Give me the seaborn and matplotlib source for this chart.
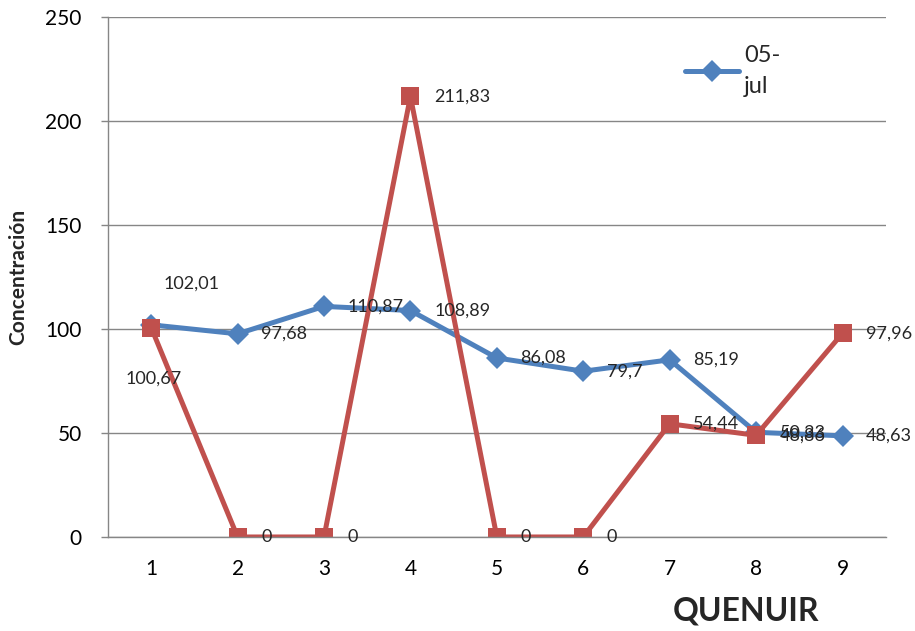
import pandas as pd
import seaborn as sns
import matplotlib.pyplot as plt

sns.set_theme(style='white')
plt.rcParams['font.family'] = ['Lato', 'DejaVu Sans']

quenuir = [1, 2, 3, 4, 5, 6, 7, 8, 9]
jul_05 = [102.01, 97.68, 110.87, 108.89, 86.08, 79.7, 85.19, 50.33, 48.63]
serie_2 = [100.67, 0, 0, 211.83, 0, 0, 54.44, 48.86, 97.96]

df = pd.concat([
    pd.DataFrame({'quenuir': quenuir, 'valor': jul_05, 'serie': '05-jul'}),
    pd.DataFrame({'quenuir': quenuir, 'valor': serie_2, 'serie': 'serie2'}),
])

fig = plt.figure(figsize=(9.15, 6.31), dpi=100)
ax = fig.add_axes([0.118, 0.149, 0.850, 0.824])

palette = {'05-jul': '#4F81BD', 'serie2': '#C0504D'}
sns.lineplot(data=df, x='quenuir', y='valor', hue='serie', style='serie',
             markers={'05-jul': 'D', 'serie2': 's'}, dashes=False,
             palette=palette, linewidth=3.6, markersize=11,
             markeredgewidth=0, ax=ax, legend=False)
# squares are a bit bigger than the diamonds
for ln in ax.get_lines():
    if ln.get_marker() == 's':
        ln.set_markersize(13)

# data labels, written the excel way with a comma
def fmt(v):
    return ('%g' % v).replace('.', ',')

for i, (x, v) in enumerate(zip(quenuir, jul_05)):
    if i == 0:
        ax.annotate(fmt(v), (x, v), xytext=(9, 30), textcoords='offset points',
                    fontsize=13, va='center', ha='left')
    else:
        ax.annotate(fmt(v), (x, v), xytext=(17, 0), textcoords='offset points',
                    fontsize=13, va='center', ha='left')
for i, (x, v) in enumerate(zip(quenuir, serie_2)):
    if i == 0:
        ax.annotate(fmt(v), (x, v), xytext=(2, -37), textcoords='offset points',
                    fontsize=13, va='center', ha='center')
    else:
        ax.annotate(fmt(v), (x, v), xytext=(17, 0), textcoords='offset points',
                    fontsize=13, va='center', ha='left')

ax.set_xlim(0.5, 9.5)
ax.set_ylim(0, 250)
ax.set_xticks(quenuir)
ax.set_yticks([0, 50, 100, 150, 200, 250])
ax.tick_params(axis='both', labelsize=15, colors='black')
ax.tick_params(axis='y', length=5, color='#868686', width=1, direction='out',
               left=True, pad=14)
ax.tick_params(axis='x', length=0, pad=16)
ax.grid(axis='y', color='#868686', linewidth=1)
for s in ['top', 'right']:
    ax.spines[s].set_visible(False)
for s in ['left', 'bottom']:
    ax.spines[s].set_color('#868686')
    ax.spines[s].set_linewidth(1)

ax.set_ylabel('Concentración', fontsize=15, fontweight='bold')
ax.yaxis.set_label_coords(-0.102, 0.5)
ax.set_xlabel('QUENUIR', fontsize=23, fontweight='bold')
ax.xaxis.set_label_coords(0.82, -0.115)

# legend only shows the first series, as in the original
h = plt.Line2D([], [], color='#4F81BD', marker='D', linewidth=3.6, markersize=11,
               markeredgewidth=0)
leg = ax.legend([h], ['05-\njul'], loc='upper left', bbox_to_anchor=(0.73, 0.965),
                frameon=False, fontsize=17, handlelength=2.3, handletextpad=0.2,
                borderaxespad=0, labelspacing=0.2)
for t in leg.get_texts():
    t.set_linespacing(1.6)

fig.savefig('out.png', dpi=100)
